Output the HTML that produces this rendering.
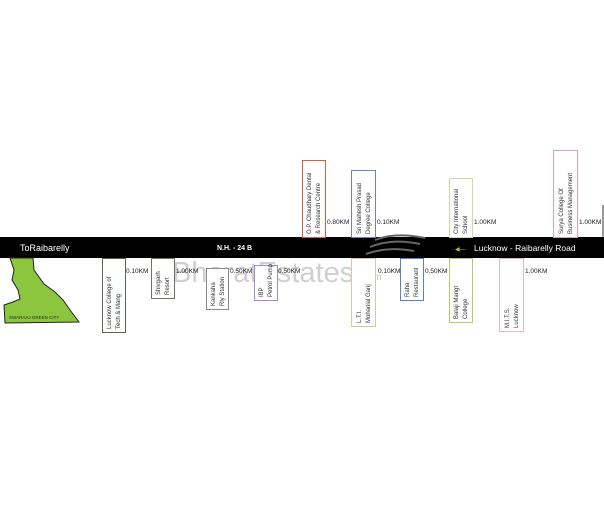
<!DOCTYPE html>
<html><head><meta charset="utf-8"><style>
html,body{margin:0;padding:0;background:#fff;}
svg{display:block;font-family:"Liberation Sans",sans-serif;}
</style></head><body>
<svg width="604" height="520" viewBox="0 0 604 520" xmlns="http://www.w3.org/2000/svg">
<rect width="604" height="520" fill="#fff"/>
<!-- watermark -->
<text x="172" y="282" font-size="29" fill="#c8c8c8" opacity="0.85">BharatEstates</text>
<text x="360" y="280" font-size="10" fill="#c8c8c8">.com</text>
<!-- road -->
<rect x="0" y="237" width="604" height="21" fill="#000"/>
<line x1="603" y1="205" x2="603" y2="237" stroke="#333" stroke-width="1"/>
<text x="20" y="251" font-size="9" fill="#fff">ToRaibarelly</text>
<text x="217" y="250" font-size="7" fill="#fff" font-weight="bold">N.H. - 24 B</text>
<text x="455" y="251" font-size="6" fill="#a8c83a">&#9664;&#8212;</text>
<text x="474" y="251" font-size="8.5" fill="#fff">Lucknow  -  Raibarelly  Road</text>
<!-- swooshes -->
<path d="M375 240 Q395 232 425 238" stroke="#666" stroke-width="2" fill="none"/>
<path d="M370 247 Q392 238 420 244" stroke="#666" stroke-width="2" fill="none"/>
<path d="M366 254 Q388 246 414 251" stroke="#666" stroke-width="2" fill="none"/>
<!-- green map -->
<polygon points="10,258 33,258 34,270 44,284 55,292 63,300 70,310 79,322 5,323 4,305 13,302 20,299 18,290 12,280 14,270" fill="#8cc63f" stroke="#222" stroke-width="1"/>
<text x="9" y="319" font-size="4.5" fill="#222">SWARAAJ GREEN CITY</text>
<g font-size="6" fill="#333">
<!-- below boxes -->
<rect x="102.5" y="258.5" width="23" height="74" fill="#fff" stroke="#556655"/>
<text transform="translate(111,329) rotate(-90)">Lucknow College of</text>
<text transform="translate(120,329) rotate(-90)">Tech &amp; Mang</text>
<rect x="151.5" y="258.5" width="23" height="40" fill="#fff" stroke="#667766"/>
<text transform="translate(160,295) rotate(-90)">Shivgarh</text>
<text transform="translate(169,295) rotate(-90)">Resort</text>
<rect x="206.5" y="268.5" width="22" height="41" fill="#fff" stroke="#888"/>
<text transform="translate(215,306) rotate(-90)">Kankaha</text>
<text transform="translate(224,306) rotate(-90)">Rly Station</text>
<rect x="254.5" y="265.5" width="23" height="35" fill="#fff" stroke="#a38bc4"/>
<text transform="translate(263,297) rotate(-90)">IBP</text>
<text transform="translate(272,297) rotate(-90)">Petrol Pump</text>
<rect x="351.5" y="258.5" width="24" height="68" fill="#fff" stroke="#d8c8a0"/>
<text transform="translate(361,323) rotate(-90)">L.T.I.</text>
<text transform="translate(370,323) rotate(-90)">Mohanlal Ganj</text>
<rect x="400.5" y="258.5" width="23" height="42" fill="#fff" stroke="#5b7fc4"/>
<text transform="translate(409,297) rotate(-90)">Raha</text>
<text transform="translate(418,297) rotate(-90)">Restaurant</text>
<rect x="449.5" y="258.5" width="23" height="64" fill="#fff" stroke="#b8c870"/>
<text transform="translate(458,319) rotate(-90)">Balaji Mangt</text>
<text transform="translate(467,319) rotate(-90)">College</text>
<rect x="499.5" y="258.5" width="24" height="73" fill="#fff" stroke="#e0b8c8"/>
<text transform="translate(509,328) rotate(-90)">M.I.T.S.</text>
<text transform="translate(518,328) rotate(-90)">Lucknow</text>
<!-- above boxes -->
<rect x="302.5" y="160.5" width="23" height="77" fill="#fff" stroke="#d06040"/>
<text transform="translate(311,234) rotate(-90)">O.P. Chaudhary Dental</text>
<text transform="translate(320,234) rotate(-90)">&amp; Research Centre</text>
<rect x="351.5" y="170.5" width="24" height="67" fill="#fff" stroke="#7080c8"/>
<text transform="translate(361,234) rotate(-90)">Sri Mahesh Prasad</text>
<text transform="translate(370,234) rotate(-90)">Degree College</text>
<rect x="449.5" y="178.5" width="23" height="59" fill="#fff" stroke="#d0d8a0"/>
<text transform="translate(458,234) rotate(-90)">City International</text>
<text transform="translate(467,234) rotate(-90)">School</text>
<rect x="553.5" y="150.5" width="24" height="87" fill="#fff" stroke="#e0a0b0"/>
<text transform="translate(563,234) rotate(-90)">Surya College Of</text>
<text transform="translate(572,234) rotate(-90)">Business Management</text>
</g>
<g font-size="6.5" fill="#222">
<text x="126" y="273">0.10KM</text>
<text x="176" y="273">1.00KM</text>
<text x="230" y="273">0.50KM</text>
<text x="278" y="273">0.50KM</text>
<text x="378" y="273">0.10KM</text>
<text x="425" y="273">0.50KM</text>
<text x="525" y="273">1.00KM</text>
<text x="327" y="224">0.80KM</text>
<text x="377" y="224">0.10KM</text>
<text x="474" y="224">1.00KM</text>
<text x="579" y="224">1.00KM</text>
</g>
</svg>
</body></html>
